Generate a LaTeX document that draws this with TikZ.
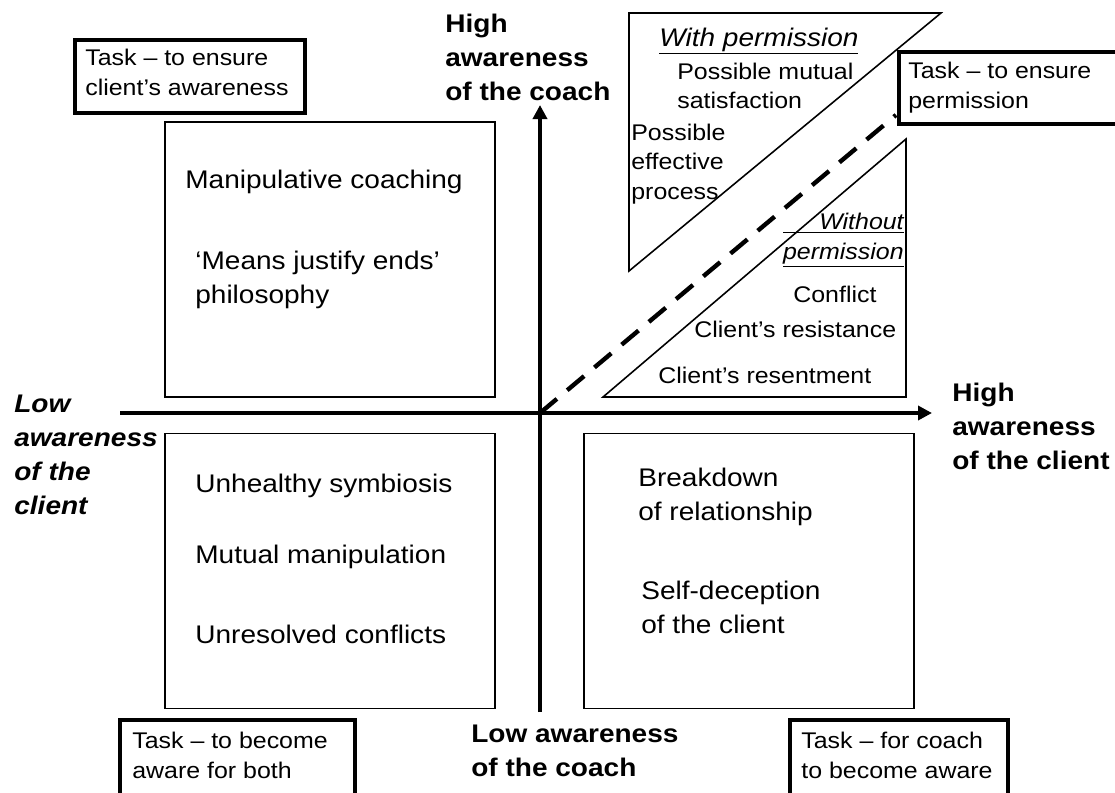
\documentclass[tikz,border=0pt]{standalone}
\usepackage{fontspec}
\setmainfont{Liberation Sans}[FakeStretch=1.1]
\usepackage{calc}
\usetikzlibrary{arrows.meta,positioning}
\tikzset{
    quad box/.style={rectangle, draw, line width=0.9pt, minimum width=6.6cm, minimum height=5.5cm, inner sep=0pt},
    task box/.style={rectangle, draw, line width=2.3pt, inner sep=0pt},
    big text/.style={font=\fontsize{14.5}{19.3}\selectfont, align=left, inner sep=0pt, anchor=base west},
    small text/.style={font=\fontsize{12.9}{16.7}\selectfont, align=left, inner sep=0pt, anchor=base west},
    small italic/.style={small text, font=\fontsize{12.9}{16.7}\selectfont\itshape},
    axis label/.style={big text, font=\fontsize{14.5}{19.3}\selectfont\bfseries},
    axis/.style={line width=2.3pt, -{Triangle[length=0.28cm,width=0.28cm]}},
    tri/.style={line width=0.9pt, line join=miter},
    dash line/.style={line width=2.5pt, dash pattern=on 0.44cm off 0.27cm}
}
\begin{document}
\begin{tikzpicture}[x=0.02cm, y=-0.02cm]
    \useasboundingbox (0,0) rectangle (1115,792);
    \clip (0,0) rectangle (1115,792);
    % axes
    \coordinate (o) at (540,413);
    \coordinate (xL) at (120,413);
    \coordinate (xR) at (932,413);
    \coordinate (yB) at (540,712);
    \coordinate (yT) at (540,105);
    \draw[axis] (xL) -- (xR);
    \draw[axis] (yB) -- (yT);
    % quadrants
    \node[quad box] (manip) at (330,259.5) {};
    \node[quad box] (symb) at (330,571) {};
    \node[quad box] (brk) at (749,571) {};
    % permission triangles
    \draw[tri] (629,13) -- (941,13) -- (629,271) -- cycle;
    \draw[tri] (603,397) -- (906,397) -- (906,139) -- cycle;
    \coordinate (dashEnd) at (896,115);
    \draw[dash line] (o) -- (dashEnd);
    % task boxes
    \node[task box, minimum width=4.6cm, minimum height=1.46cm] (taskAware) at (190,76.5) {};
    \node[task box, minimum width=4.62cm, minimum height=1.44cm] (taskPerm) at (1014.5,88) {};
    \node[task box, minimum width=4.7cm, minimum height=1.6cm] (taskBoth) at (237.5,760) {};
    \node[task box, minimum width=4.36cm, minimum height=1.6cm] (taskCoach) at (899,760) {};
    % axis labels (placed at the baseline of the last line)
    \node[axis label] (hiCoach) at (445,100) {High\\awareness\\of the coach};
    \node[axis label, font=\fontsize{14.5}{19.3}\selectfont\bfseries\itshape] (loClient) at (14,514) {Low\\awareness\\of the\\client};
    \node[axis label] (hiClient) at (952,469) {High\\awareness\\of the client};
    \node[axis label] (loCoach) at (471,776) {Low awareness\\of the coach};
    % quadrant texts
    \begin{scope}[every node/.style={big text}]
        \node (manipTxt) at (185,188) {Manipulative coaching};
        \node (meansTxt) at (195,303) {‘Means justify ends’\\philosophy};
        \node (symbTxt) at (195,492) {Unhealthy symbiosis};
        \node (mutTxt) at (195,563) {Mutual manipulation};
        \node (unresTxt) at (195,643) {Unresolved conflicts};
        \node (brkTxt) at (638,520) {Breakdown\\of relationship};
        \node (selfTxt) at (641,633) {Self-deception\\of the client};
    \end{scope}
    % triangle texts
    \node[big text, font=\fontsize{14.5}{19.3}\selectfont\itshape] (withPerm) at (659,46) {\underline{With permission}};
    \node[small text] (mutSat) at (677,108.5) {Possible mutual\\satisfaction};
    \node[small text] (effProc) at (631,199) {Possible\\effective\\process};
    \node[small italic, anchor=base east, align=right] (withoutPerm) at (904,259)
        {\underline{\makebox[\widthof{\itshape permission}][r]{Without}}\\\underline{permission}};
    \node[small text] (conflict) at (793,302) {Conflict};
    \node[small text] (resist) at (694,337) {Client’s resistance};
    \node[small text] (resent) at (658,383) {Client’s resentment};
    % task texts
    \begin{scope}[every node/.style={small text}]
        \node (taskAwareTxt) at (85,95) {Task – to ensure\\client’s awareness};
        \node (taskPermTxt) at (908,108) {Task – to ensure\\permission};
        \node (taskBothTxt) at (132,778) {Task – to become\\aware for both};
        \node (taskCoachTxt) at (801,778) {Task – for coach\\to become aware};
    \end{scope}
\end{tikzpicture}
\end{document}
